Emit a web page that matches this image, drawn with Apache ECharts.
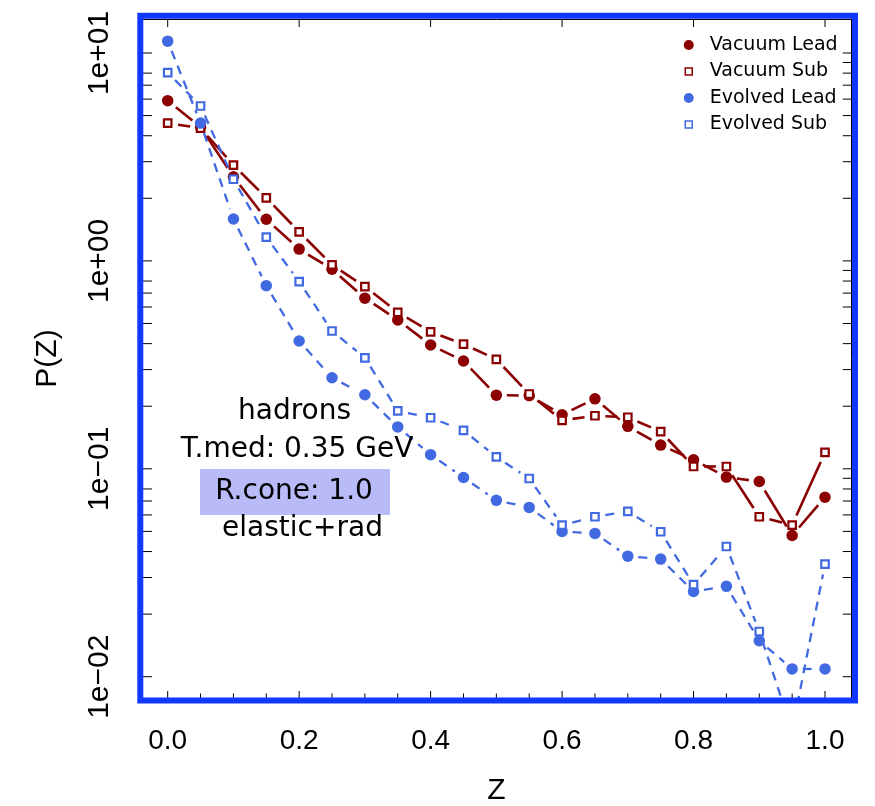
<!DOCTYPE html>
<html><head><meta charset="utf-8">
<script src="https://cdn.jsdelivr.net/npm/echarts@6/dist/echarts.min.js"></script>
<style>html,body{margin:0;padding:0;background:#fff}#c{width:875px;height:806px}</style>
</head><body><div id="c"></div>
<script>
// ---- data ----
const zValues = [0.00,0.05,0.10,0.15,0.20,0.25,0.30,0.35,0.40,0.45,0.50,0.55,0.60,0.65,0.70,0.75,0.80,0.85,0.90,0.95,1.00];
const vacuumLead = [5.90,4.40,2.54,1.585,1.14,0.912,0.662,0.52,0.394,0.33,0.226,0.225,0.182,0.217,0.160,0.130,0.1105,0.0912,0.0869,0.0478,0.073];
const vacuumSub  = [4.60,4.35,2.89,2.01,1.38,0.957,0.752,0.566,0.456,0.398,0.336,0.229,0.171,0.180,0.177,0.151,0.1026,0.1026,0.0588,0.0536,0.120];
const evolvedLead = [11.4,4.60,1.59,0.760,0.412,0.274,0.227,0.159,0.117,0.0908,0.0705,0.0652,0.0500,0.0489,0.0380,0.0368,0.0257,0.0272,0.0149,0.0109,0.0109];
const evolvedSub  = [8.04,5.56,2.47,1.30,0.795,0.460,0.342,0.190,0.176,0.153,0.114,0.0898,0.0536,0.0588,0.0624,0.0498,0.0277,0.0423,0.0165,0.0055,0.0348];

const seriesNames = ['Vacuum Lead','Vacuum Sub','Evolved Lead','Evolved Sub'];
const xTickValues = [0,0.2,0.4,0.6,0.8,1.0];
const xTickLabels = ['0.0','0.2','0.4','0.6','0.8','1.0'];
const xMinorTickValues = [0,0.05,0.1,0.15,0.2,0.25,0.3,0.35,0.4,0.45,0.5,0.55,0.6,0.65,0.7,0.75,0.8,0.85,0.9,0.95,1.0];
const yTickValues = [0.01,0.1,1,10];
const yTickLabels = ['1e\u221202','1e\u221201','1e+00','1e+01'];
const yLeftTickValues = [0.01,0.02,0.03,0.04,0.05,0.06,0.07,0.08,0.1,0.2,0.3,0.4,0.5,0.6,0.7,0.8,1,2,3,4,5,6,7,8,10];
const yRightTickValues = [0.01,0.02,0.03,0.04,0.05,0.06,0.07,0.08,0.09,0.1,0.2,0.3,0.4,0.5,0.6,0.7,0.8,0.9,1,2,3,4,5,6,7,8,9,10];
const annotations = ['hadrons','T.med: 0.35 GeV','R.cone: 1.0','elastic+rad'];
const axisTitles = {x:'Z', y:'P(Z)'};

const X_MIN = -0.04, X_MAX = 1.04, Y_MIN = 0.0079, Y_MAX = 14.57;
const DARK = '#8B0000', BLUE = '#4169E1', FRAME = '#1238FF';
const SQ_ICON = 'path://M0,0M10,10M1.5,1.5L8.5,1.5L8.5,8.5L1.5,8.5Z';
const GAP = 10.5; // R type="b" gap around points, px

const chart = echarts.init(document.getElementById('c'), null, {renderer:'canvas'});

function pairs(arr){ return zValues.map((z,i)=>[z, arr[i]]); }
function segs(arr){ return zValues.slice(0,-1).map((z,i)=>[z, arr[i], zValues[i+1], arr[i+1]]); }

function pointSeries(name, arr, color, hollow, z){
  return {
    name, type:'scatter', data: pairs(arr), clip:true, z,
    symbol: hollow ? 'rect' : 'circle',
    symbolSize: hollow ? 7.5 : 11.5,
    itemStyle: hollow ? {color:'#fff', borderColor:color, borderWidth:2.2, opacity:1} : {color:color, borderWidth:0, opacity:1},
    emphasis:{disabled:true}
  };
}
function segmentSeries(arr, color, dash, width){
  return {
    type:'custom', silent:true, clip:true, z:2, data: segs(arr),
    encode:{x:[0,2], y:[1,3]},
    renderItem:(params, api)=>{
      const a = api.coord([api.value(0), api.value(1)]);
      const b = api.coord([api.value(2), api.value(3)]);
      const dx=b[0]-a[0], dy=b[1]-a[1], d=Math.hypot(dx,dy);
      if (d <= 2*GAP) return null;
      const ux=dx/d, uy=dy/d;
      return {type:'line', shape:{x1:a[0]+ux*GAP, y1:a[1]+uy*GAP, x2:b[0]-ux*GAP, y2:b[1]-uy*GAP},
              style:{stroke:color, lineWidth:width, lineDash:dash, fill:null}};
    }
  };
}
function tickSeries(data, fn){
  return { type:'custom', silent:true, z:4, clip:false, data, renderItem:(params, api)=>fn(api) };
}
const isMajorX = v => xTickValues.some(t=>Math.abs(t-v)<1e-9);

const option = {
  animation:false,
  backgroundColor:'#fff',
  grid:{left:141.4, top:19, width:709.9, height:679, containLabel:false, outerBoundsMode:'none'},
  xAxis:[{
    type:'value', position:'bottom', min:X_MIN, max:X_MAX,
    axisLine:{show:false, onZero:false}, axisTick:{show:false}, splitLine:{show:false},
    axisLabel:{customValues:xTickValues, margin:29, color:'#000', fontFamily:'Liberation Sans', fontSize:28,
      formatter:v=>{const i=xTickValues.findIndex(t=>Math.abs(t-v)<1e-9); return i>=0?xTickLabels[i]:'';}},
    name:axisTitles.x, nameLocation:'middle', nameGap:78,
    nameTextStyle:{color:'#000', fontFamily:'Liberation Sans', fontSize:30}
  },{
    type:'value', position:'top', min:X_MIN, max:X_MAX,
    axisLine:{show:true, onZero:false, lineStyle:{color:'#000', width:1}}, axisTick:{show:false}, axisLabel:{show:false}, splitLine:{show:false}
  }],
  yAxis:[{
    type:'log', logBase:10, position:'left', min:Y_MIN, max:Y_MAX,
    axisLine:{show:false, onZero:false}, axisTick:{show:false}, splitLine:{show:false}, minorTick:{show:false},
    axisLabel:{customValues:yTickValues, rotate:90, margin:27, color:'#000', fontFamily:'Liberation Sans', fontSize:30,
      formatter:v=>{const i=yTickValues.findIndex(t=>Math.abs(Math.log10(t)-Math.log10(v))<1e-6); return i>=0?yTickLabels[i]:'';}},
    name:axisTitles.y, nameLocation:'middle', nameRotate:90, nameGap:79,
    nameTextStyle:{color:'#000', fontFamily:'Liberation Sans', fontSize:30}
  },{
    type:'log', logBase:10, position:'right', min:Y_MIN, max:Y_MAX,
    axisLine:{show:true, onZero:false, lineStyle:{color:'#000', width:1}}, axisTick:{show:false}, axisLabel:{show:false}, splitLine:{show:false}
  }],
  legend:{
    orient:'vertical', left:683, top:35.5, padding:0, itemWidth:10, itemHeight:10, itemGap:7.5,
    selectedMode:false,
    textStyle:{color:'#000', fontFamily:'DejaVu Sans', fontSize:19, lineHeight:19, padding:[0,0,0,11]},
    data:[
      {name:seriesNames[0], icon:'circle', itemStyle:{color:DARK, borderWidth:0}},
      {name:seriesNames[1], icon:SQ_ICON, itemStyle:{color:'#fff', borderColor:DARK, borderWidth:1.5}},
      {name:seriesNames[2], icon:'circle', itemStyle:{color:BLUE, borderWidth:0}},
      {name:seriesNames[3], icon:SQ_ICON, itemStyle:{color:'#fff', borderColor:BLUE, borderWidth:1.5}}
    ]
  },
  series:[
    segmentSeries(vacuumLead, DARK, null, 2.6),
    segmentSeries(vacuumSub, DARK, null, 2.6),
    segmentSeries(evolvedLead, BLUE, [9,7], 2.3),
    segmentSeries(evolvedSub, BLUE, [9,7], 2.3),
    pointSeries(seriesNames[0], vacuumLead, DARK, false, 3),
    pointSeries(seriesNames[1], vacuumSub, DARK, true, 3),
    pointSeries(seriesNames[2], evolvedLead, BLUE, false, 3),
    pointSeries(seriesNames[3], evolvedSub, BLUE, true, 3),
    // bottom ticks
    tickSeries(xMinorTickValues.map(v=>[v, Y_MIN]), api=>{
      const v=api.value(0); const p=api.coord([v, Y_MIN]); const len=isMajorX(v)?7:4.5;
      return {type:'line', shape:{x1:p[0],y1:p[1],x2:p[0],y2:p[1]-len}, style:{stroke:'#000', lineWidth:1}};
    }),
    // top ticks
    tickSeries(xTickValues.map(v=>[v, Y_MAX]), api=>{
      const v=api.value(0); const p=api.coord([v, Y_MAX]);
      return {type:'line', shape:{x1:p[0],y1:p[1],x2:p[0],y2:p[1]+8}, style:{stroke:'#000', lineWidth:1}};
    }),
    // left ticks
    tickSeries(yLeftTickValues.map(v=>[X_MIN, v]), api=>{
      const v=api.value(1); const p=api.coord([X_MIN, v]);
      return {type:'line', shape:{x1:p[0],y1:p[1],x2:p[0]+10.5,y2:p[1]}, style:{stroke:'#000', lineWidth:1}};
    }),
    // right ticks
    tickSeries(yRightTickValues.map(v=>[X_MAX, v]), api=>{
      const v=api.value(1); const p=api.coord([X_MAX, v]);
      return {type:'line', shape:{x1:p[0],y1:p[1],x2:p[0]-8.5,y2:p[1]}, style:{stroke:'#000', lineWidth:1}};
    })
  ],
  graphic:[
    {type:'rect', z:1, shape:{x:200,y:469,width:190,height:46}, style:{fill:'#B9BBF9'}},
    {type:'text', z:10, x:294.5, y:412, style:{text:annotations[0], fontFamily:'DejaVu Sans', fontSize:28, fill:'#000', textAlign:'center', textVerticalAlign:'middle', align:'center', verticalAlign:'middle'}},
    {type:'text', z:10, x:297, y:450, style:{text:annotations[1], fontFamily:'DejaVu Sans', fontSize:28, fill:'#000', textAlign:'center', textVerticalAlign:'middle', align:'center', verticalAlign:'middle'}},
    {type:'text', z:10, x:294, y:491.5, style:{text:annotations[2], fontFamily:'DejaVu Sans', fontSize:28, fill:'#000', textAlign:'center', textVerticalAlign:'middle', align:'center', verticalAlign:'middle'}},
    {type:'text', z:10, x:302.5, y:528.5, style:{text:annotations[3], fontFamily:'DejaVu Sans', fontSize:28, fill:'#000', textAlign:'center', textVerticalAlign:'middle', align:'center', verticalAlign:'middle'}},
    {type:'rect', z:100, shape:{x:140.3,y:15.7,width:714.7,height:684.8}, style:{fill:'none', stroke:FRAME, lineWidth:6}}
  ]
};
chart.setOption(option);
</script></body></html>
